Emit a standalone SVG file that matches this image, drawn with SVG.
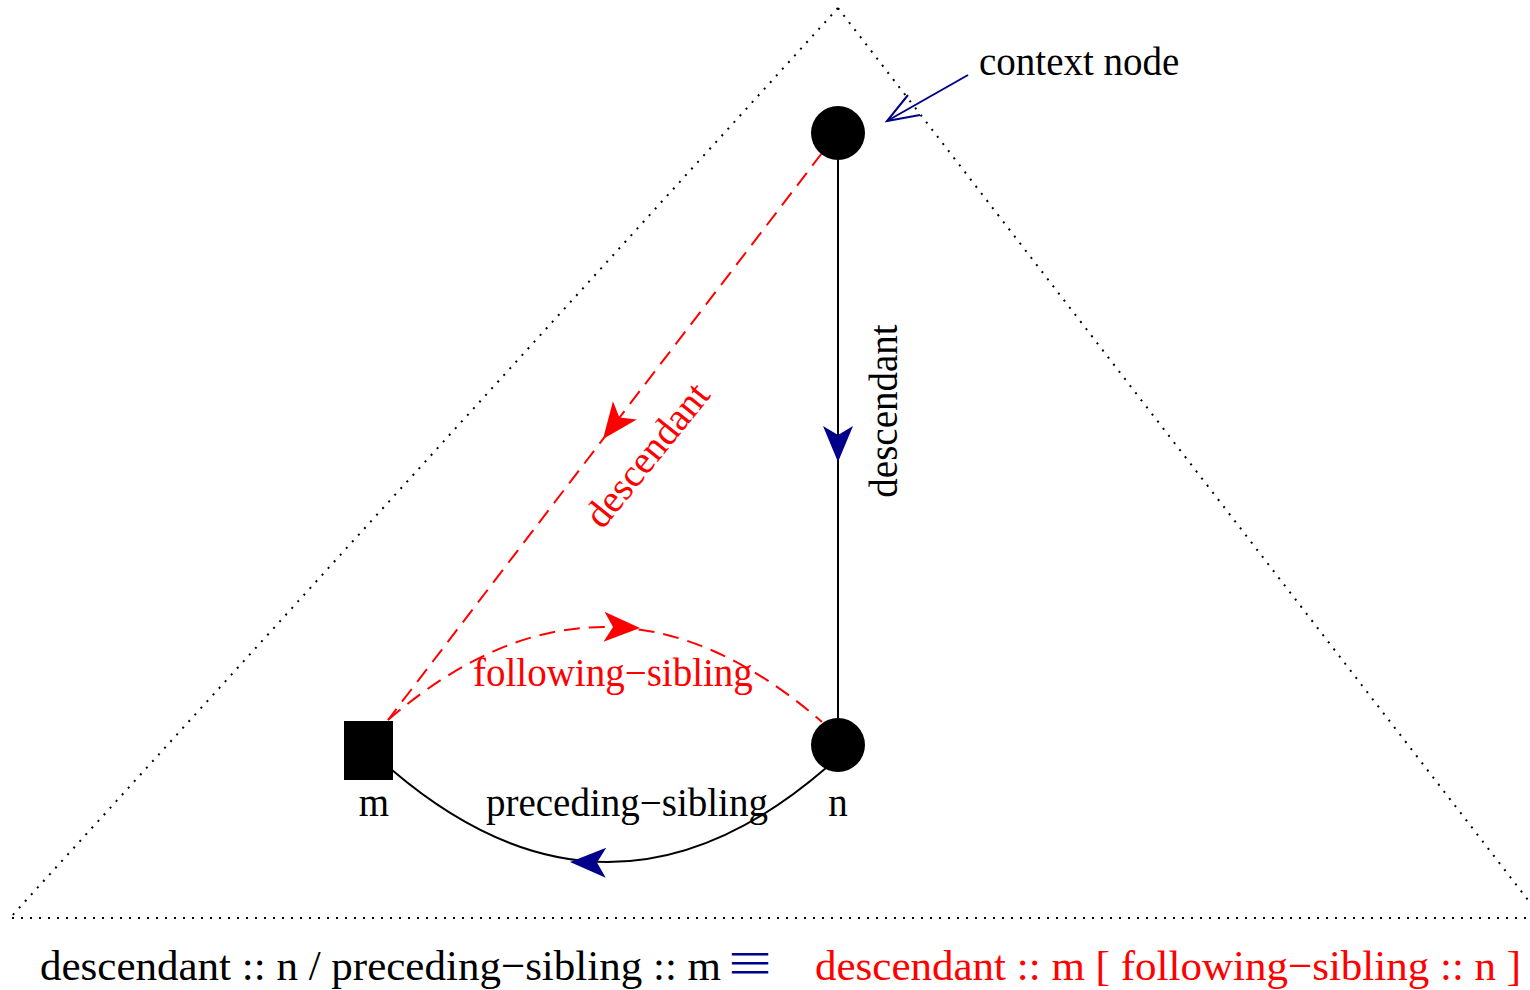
<svg xmlns="http://www.w3.org/2000/svg" width="1530" height="990" viewBox="0 0 1530 990">
  <style>
    text { font-family: "Liberation Serif", "Times New Roman", serif; }
    .lbl { font-size: 39px; }
    .expr { font-size: 43px; }
    .red { fill: #ff0000; }
    .blk { fill: #000000; }
    .equiv { font-family: "Noto Sans CJK JP", "Liberation Serif", serif; font-size: 40px; fill: #00008b; }
    .dotted { fill: none; stroke: #000; stroke-width: 2; stroke-dasharray: 2 7; }
    .solid { fill: none; stroke: #000; stroke-width: 2; }
    .dashed { fill: none; stroke: #ff0000; stroke-width: 2; stroke-dasharray: 16 9; }
    .navy { fill: none; stroke: #00008b; stroke-width: 2; }
  </style>
  <defs>
    <!-- notched arrowhead, tip at origin pointing along +x -->
    <path id="head" d="M0,0 L-36,-15 L-27,0 L-36,15 Z"/>
  </defs>
  <rect width="1530" height="990" fill="#fff"/>

  <!-- subtree outline -->
  <g id="tree">
    <path class="dotted" d="M838,8 L10,918"/>
    <path class="dotted" d="M838,8 L1528,900"/>
    <path class="dotted" d="M12,918 L1528,918"/>
  </g>

  <g id="connectors">
    <!-- descendant: context node to n -->
    <path class="solid" d="M838,160 L838,718"/>
    <use href="#head" fill="#00008b" transform="translate(838,462) rotate(90)"/>
    <!-- descendant: context node to m -->
    <path class="dashed" d="M822,153 L388,720"/>
    <use href="#head" fill="#ff0000" transform="translate(603,439) rotate(127.4)"/>
    <!-- following-sibling: m to n -->
    <path class="dashed" d="M388,720 Q605,533 822,722"/>
    <use href="#head" fill="#ff0000" transform="translate(640,628) rotate(2)"/>
    <!-- preceding-sibling: n to m -->
    <path class="solid" d="M392,770 Q609,955 826,768"/>
    <use href="#head" fill="#00008b" transform="translate(570,862) rotate(181)"/>
    <!-- context node pointer -->
    <path class="navy" d="M968,75 L887,121"/>
    <path class="navy" d="M908,95 L887,121 L920,115"/>
  </g>

  <g id="context-node">
    <circle cx="838" cy="133" r="27" fill="#000"/>
    <text class="lbl blk" x="979" y="75">context node</text>
  </g>

  <g id="node-n">
    <circle cx="838" cy="745" r="27" fill="#000"/>
    <text class="lbl blk" x="838" y="816" text-anchor="middle">n</text>
  </g>

  <g id="node-m">
    <rect x="344" y="721" width="49" height="59" fill="#000"/>
    <text class="lbl blk" x="374" y="816" text-anchor="middle">m</text>
  </g>

  <g id="edge-labels">
    <text class="lbl blk" text-anchor="middle" transform="translate(897,411) rotate(-90)">descendant</text>
    <text class="lbl red" text-anchor="middle" transform="translate(657,463) rotate(-51)">descendant</text>
    <text class="lbl red" x="473" y="686">following−sibling</text>
    <text class="lbl blk" x="486" y="816">preceding−sibling</text>
  </g>

  <g id="equivalence">
    <text class="expr blk" x="40" y="980">descendant :: n / preceding−sibling :: m</text>
    <text class="equiv" x="0" y="0" text-anchor="middle" transform="translate(750,978) scale(1.25,1)">≡</text>
    <text class="expr red" x="815" y="980">descendant :: m [ following−sibling :: n ]</text>
  </g>
</svg>
